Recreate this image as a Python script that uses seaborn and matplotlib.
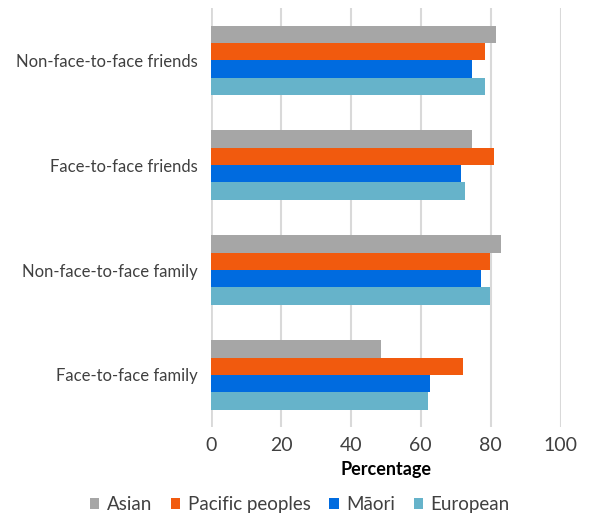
import matplotlib
matplotlib.use("Agg")
import matplotlib.pyplot as plt
import seaborn as sns
import pandas as pd

categories = ["Non-face-to-face friends", "Face-to-face friends",
              "Non-face-to-face family", "Face-to-face family"]
groups = ["Asian", "Pacific peoples", "Māori", "European"]
asian = [81.6, 74.7, 83.1, 48.6]
pacific = [78.5, 81.0, 79.9, 72.1]
maori = [74.7, 71.6, 77.3, 62.7]
european = [78.5, 72.7, 79.9, 62.1]
colors = ["#A6A6A6", "#F15A0E", "#006BDF", "#66B3CA"]
xticks = [0, 20, 40, 60, 80, 100]

rows = []
for g, vals in zip(groups, [asian, pacific, maori, european]):
    for c, v in zip(categories, vals):
        rows.append({"Category": c, "Group": g, "Value": v})
df = pd.DataFrame(rows)

sns.set_theme(style="white")
plt.rcParams["font.family"] = ["Lato", "DejaVu Sans"]

fig = plt.figure(figsize=(5.9, 5.18), dpi=100)
ax = fig.add_axes([0.358, 0.175, 0.592, 0.81])
sns.barplot(data=df, y="Category", x="Value", hue="Group", order=categories,
            hue_order=groups, palette=colors, width=0.66, saturation=1,
            orient="h", ax=ax, legend=True, linewidth=0, edgecolor="none")
ax.set_xlim(0, 100)
ax.set_xticks(xticks)
ax.set_xticklabels([str(t) for t in xticks], fontsize=14, color="#404040")
ax.tick_params(axis="y", labelsize=12, colors="#404040", length=0, pad=10)
ax.tick_params(axis="x", length=0, pad=7)
ax.set_ylabel("")
ax.set_xlabel("Percentage", fontsize=13, fontweight="bold", color="#000000", labelpad=5)
ax.grid(axis="x", color="#D9D9D9", linewidth=1.5)
ax.set_axisbelow(True)
for s in ax.spines.values():
    s.set_visible(False)
ax.axvline(0, color="#D9D9D9", linewidth=2, zorder=0)

handles, labels = ax.get_legend_handles_labels()
ax.legend_.remove()
fig.legend(handles, labels, loc="center", bbox_to_anchor=(0.508, 0.026), ncol=4,
           frameon=False, fontsize=13.5, handlelength=0.5, handleheight=0.5,
           handletextpad=0.4, columnspacing=1.0, labelcolor="#404040")

fig.savefig("out.png", dpi=100)
